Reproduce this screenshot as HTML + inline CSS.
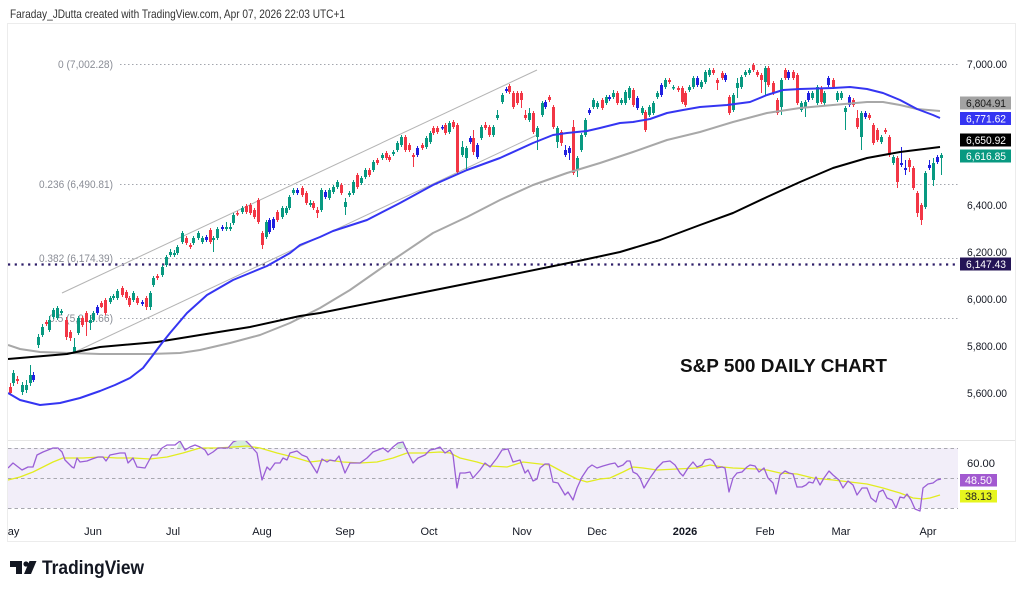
<!DOCTYPE html>
<html><head><meta charset="utf-8"><style>
html,body{margin:0;padding:0;background:#fff;}
svg{display:block;font-family:"Liberation Sans",sans-serif;}
</style></head><body>
<svg width="1024" height="593" viewBox="0 0 1024 593" xmlns="http://www.w3.org/2000/svg">
<defs>
<clipPath id="mp"><rect x="8" y="24" width="950" height="416"/></clipPath>
<clipPath id="rp"><rect x="8" y="441" width="950" height="100"/></clipPath>
<clipPath id="tp"><rect x="8" y="520" width="1007" height="21"/></clipPath>
</defs>
<rect width="1024" height="593" fill="#fff"/>
<text x="10" y="18" font-size="12" fill="#333" textLength="335" lengthAdjust="spacingAndGlyphs">Faraday_JDutta created with TradingView.com, Apr 07, 2026 22:03 UTC+1</text>
<rect x="7.5" y="23.5" width="1008" height="518" fill="none" stroke="#ececec"/>
<line x1="8" y1="440.5" x2="1015" y2="440.5" stroke="#e4e4e4"/>

<g clip-path="url(#mp)">
<!-- fib -->
<g stroke="#a3a6ae" stroke-width="1" stroke-dasharray="1.5 2.5">
<line x1="120" y1="64.5" x2="958" y2="64.5"/>
<line x1="120" y1="184.5" x2="958" y2="184.5"/>
<line x1="120" y1="258.5" x2="958" y2="258.5"/>
<line x1="120" y1="318.5" x2="958" y2="318.5"/>
</g>
<g font-size="11" fill="#8a8d96">
<text x="113" y="68" text-anchor="end" textLength="55" lengthAdjust="spacingAndGlyphs">0 (7,002.28)</text>
<text x="113" y="188" text-anchor="end" textLength="74" lengthAdjust="spacingAndGlyphs">0.236 (6,490.81)</text>
<text x="113" y="262" text-anchor="end" textLength="74" lengthAdjust="spacingAndGlyphs">0.382 (6,174.39)</text>
<text x="113" y="322" text-anchor="end" textLength="64" lengthAdjust="spacingAndGlyphs">0.5 (5,918.66)</text>
</g>
<line x1="8" y1="264.5" x2="958" y2="264.5" stroke="#2d1d68" stroke-width="2.2" stroke-dasharray="2.2 4.5"/>
<!-- channel -->
<line x1="62" y1="293" x2="537" y2="70" stroke="#b4b4b4" stroke-width="1"/>
<line x1="75" y1="352" x2="537" y2="135" stroke="#b4b4b4" stroke-width="1"/>

<!-- candles -->
<path fill="none" stroke="#089981" stroke-width="1" d="M13.5 370V386M22.5 382V395M26.5 380V393M30.5 365V386M38.5 334V348M42.5 324V337M49.5 316V332M53.5 308V319M57.5 306V320M61.5 309V315M74.5 338V354M78.5 316V335M90.5 315V330M93.5 311V322M110.5 296V304M113.5 294V300M117.5 289V300M133.5 291V302M150.5 291V310M153.5 276V287M162.5 265V277M166.5 255V267M170.5 249V257M174.5 250V257M177.5 245V255M182.5 231V244M193.5 236V245M198.5 231V240M202.5 236V244M213.5 236V252M217.5 227V240M226.5 222V231M230.5 223V231M233.5 213V225M242.5 206V214M266.5 220V239M282.5 206V219M286.5 206V215M289.5 195V210M293.5 188V195M310.5 200V207M321.5 188V212M329.5 188V200M333.5 185V194M337.5 180V189M345.5 198V215M349.5 191V197M353.5 180V195M361.5 176V185M365.5 168V179M373.5 160V172M382.5 153V160M393.5 150V156M397.5 141V152M401.5 135V147M426.5 136V149M430.5 131V144M449.5 121V134M462.5 141V157M466.5 146V170M481.5 125V140M493.5 125V137M497.5 110V120M502.5 93V104M529.5 108V122M537.5 126V150M542.5 101V117M557.5 126V148M577.5 156V177M581.5 133V152M585.5 118V137M593.5 98V109M597.5 101V109M606.5 95V105M613.5 90V99M621.5 98V105M625.5 90V105M629.5 86V100M642.5 106V115M649.5 105V117M653.5 101V115M657.5 91V99M665.5 78V89M673.5 85V90M689.5 85V92M693.5 76V89M701.5 80V89M705.5 70V84M709.5 68V77M733.5 93V112M737.5 78V98M741.5 75V89M745.5 70V77M749.5 68V75M765.5 66V95M781.5 78V115M801.5 101V112M805.5 100V117M812.5 91V100M817.5 85V105M824.5 91V105M837.5 91V102M841.5 91V100M845.5 106V130M861.5 111V150M881.5 135V144M893.5 155V165M925.5 171V209M933.5 158V186M941.5 153V175"/>
<path fill="none" stroke="#089981" stroke-width="3" d="M13.5 373V383M22.5 385V392M26.5 385V390M30.5 375V383M38.5 337V345M42.5 327V335M49.5 320V330M53.5 310V317M57.5 308V318M61.5 311V313M74.5 347V352M78.5 318V333M90.5 320V323M93.5 313V320M110.5 298V302M113.5 296V298M117.5 291V298M133.5 293V300M150.5 293V307M153.5 278V285M162.5 267V275M166.5 257V265M170.5 252V255M174.5 253V255M177.5 247V253M182.5 233V242M193.5 238V243M198.5 233V238M202.5 238V242M213.5 238V240M217.5 229V238M226.5 227V229M230.5 227V229M233.5 215V223M242.5 208V212M266.5 222V237M282.5 208V217M286.5 208V213M289.5 197V208M293.5 190V193M310.5 203V205M321.5 190V210M329.5 190V198M333.5 187V192M337.5 182V187M345.5 202V207M349.5 193V195M353.5 182V193M361.5 178V183M365.5 170V177M373.5 162V170M382.5 155V158M393.5 152V154M397.5 143V150M401.5 137V145M426.5 138V147M430.5 133V142M449.5 123V132M462.5 147V155M466.5 148V158M481.5 127V138M493.5 127V135M497.5 115V118M502.5 95V102M529.5 113V120M537.5 128V137M542.5 103V115M557.5 128V142M577.5 158V170M581.5 135V150M585.5 120V135M593.5 100V107M597.5 103V107M606.5 97V103M613.5 93V97M621.5 100V103M625.5 92V103M629.5 88V98M642.5 108V113M649.5 107V115M653.5 103V113M657.5 93V97M665.5 80V87M673.5 87V88.5M689.5 87V90M693.5 78V87M701.5 82V87M705.5 72V82M709.5 70V75M733.5 95V110M737.5 83V88M741.5 77V87M745.5 72V75M749.5 70V73M765.5 68V82M781.5 80V107M801.5 103V110M805.5 102V108M812.5 93V98M817.5 87V103M824.5 93V103M837.5 93V100M841.5 93V98M845.5 108V112M861.5 113V137M881.5 137V142M893.5 157V163M925.5 173V207M933.5 163V180M941.5 155V158"/>
<path fill="none" stroke="#f23645" stroke-width="1" d="M10.5 383V395M17.5 376V384M46.5 320V326M66.5 317V340M70.5 330V341M82.5 316V327M86.5 311V336M101.5 301V308M105.5 298V315M122.5 286V297M126.5 290V300M129.5 296V307M137.5 296V305M146.5 296V310M157.5 274V280M186.5 236V245M190.5 243V249M210.5 228V244M237.5 211V216M246.5 204V214M250.5 203V215M254.5 208V219M258.5 198V224M262.5 231V249M277.5 210V222M302.5 186V197M306.5 191V205M313.5 201V210M317.5 207V218M341.5 183V195M357.5 173V189M369.5 168V177M377.5 158V165M386.5 151V160M389.5 155V162M405.5 135V152M409.5 143V152M413.5 153V167M422.5 143V150M433.5 126V135M437.5 126V134M445.5 123V135M453.5 120V129M457.5 123V174M473.5 130V155M485.5 122V130M489.5 125V137M509.5 84V94M513.5 91V109M517.5 91V105M521.5 91V108M525.5 110V120M533.5 111V134M549.5 95V102M553.5 105V129M561.5 130V146M573.5 120V175M602.5 98V110M617.5 91V105M633.5 88V107M645.5 110V132M669.5 78V84M678.5 86V92M682.5 86V104M685.5 91V107M713.5 68V75M717.5 78V90M722.5 71V80M729.5 95V115M753.5 63V72M757.5 70V77M761.5 73V93M768.5 66V87M773.5 81V95M777.5 98V115M785.5 68V80M793.5 70V80M797.5 73V105M821.5 86V104M833.5 78V89M853.5 98V107M857.5 110V129M869.5 113V120M873.5 123V145M877.5 128V142M885.5 128V134M889.5 135V157M897.5 156V188M909.5 158V172M913.5 166V190M917.5 191V217M921.5 203V225"/>
<path fill="none" stroke="#f23645" stroke-width="3" d="M10.5 387V393M17.5 379V381M46.5 322V324M66.5 320V337M70.5 332V338M82.5 318V325M86.5 313V322M101.5 303V307M105.5 300V313M122.5 288V295M126.5 292V298M129.5 298V305M137.5 298V303M146.5 298V307M157.5 276V278M186.5 238V243M190.5 245V247M210.5 230V242M237.5 213V214.5M246.5 206V212M250.5 205V213M254.5 210V217M258.5 200V222M262.5 233V245M277.5 212V220M302.5 188V195M306.5 193V203M313.5 203V208M317.5 210V213M341.5 185V193M357.5 175V187M369.5 170V175M377.5 160V163M386.5 153V158M389.5 157V160M405.5 137V150M409.5 145V150M413.5 155V157M422.5 145V148M433.5 128V133M437.5 128V132M445.5 125V133M453.5 122V127M457.5 125V172M473.5 138V152M485.5 125V128M489.5 127V135M509.5 86V92M513.5 93V107M517.5 93V103M521.5 93V100M525.5 115V118M533.5 113V132M549.5 97V100M553.5 107V127M561.5 132V143M573.5 127V173M602.5 100V108M617.5 93V103M633.5 90V105M645.5 112V130M669.5 80V82M678.5 88V90M682.5 88V102M685.5 93V105M713.5 70V73M717.5 80V83M722.5 73V78M729.5 97V113M753.5 65V70M757.5 72V75M761.5 75V80M768.5 68V85M773.5 83V93M777.5 100V113M785.5 70V78M793.5 72V78M797.5 75V103M821.5 88V102M833.5 80V87M853.5 100V105M857.5 118V127M869.5 115V118M873.5 125V143M877.5 130V140M885.5 130V132M889.5 137V155M897.5 158V182M909.5 160V167M913.5 168V188M917.5 193V213M921.5 205V220"/>
<path fill="none" stroke="#2020e0" stroke-width="1" d="M33.5 372V382M97.5 305V315M142.5 300V306M206.5 235V242M222.5 225V231M269.5 218V234M273.5 217V230M297.5 188V195M325.5 190V199M417.5 146V157M442.5 125V130M470.5 136V144M477.5 143V159M506.5 87V93M545.5 100V109M565.5 145V157M569.5 146V160M589.5 108V115M609.5 95V101M637.5 96V110M661.5 83V97M697.5 76V87M725.5 73V82M788.5 70V80M808.5 91V102M828.5 76V87M849.5 95V107M865.5 111V119M901.5 147V167M905.5 160V175M929.5 160V170M937.5 155V164"/>
<path fill="none" stroke="#2020e0" stroke-width="3" d="M33.5 375V380M97.5 307V313M142.5 302V304M206.5 237V240M222.5 227V229M269.5 220V232M273.5 219V228M297.5 190V193M325.5 192V197M417.5 148V155M442.5 127V128.5M470.5 138V142M477.5 145V157M506.5 89V91M545.5 102V107M565.5 150V155M569.5 148V153M589.5 110V113M609.5 97V99M637.5 98V108M661.5 85V95M697.5 78V85M725.5 75V80M788.5 72V78M808.5 93V100M828.5 78V85M849.5 97V105M865.5 113V117M901.5 163V165M905.5 168V170M929.5 165V168M937.5 157V162"/>

<!-- MAs -->
<polyline fill="none" stroke="#a8a8a8" stroke-width="2" stroke-linejoin="round" points="8,345 20,349 40,352 70,353 100,354 150,354 180,353 200,350 230,343 260,335 290,323 320,308 350,290 390,262 433,233 467,217 500,200 533,185 567,173 600,163 633,152 667,140 700,132 733,122 767,113 800,108 833,105 867,102 883,102 900,105 917,109 940,111"/>
<polyline fill="none" stroke="#000" stroke-width="2" stroke-linejoin="round" points="8,359 67,354 100,347 157,342 200,335 250,327 300,316 320,313 400,297 500,277 583,260 620,252 660,240 700,225 733,213 767,197 800,182 833,168 867,158 900,152 940,147"/>
<polyline fill="none" stroke="#3535f2" stroke-width="2" stroke-linejoin="round" points="8,393 20,400 40,405 60,403 80,398 100,391 115,385 130,378 143,368 153,355 162,343 170,333 187,313 207,295 233,280 250,273 267,266 290,253 300,245 320,237 333,231 367,220 400,203 433,185 467,170 500,158 533,143 553,135 567,133 587,131 600,128 620,123 633,122 650,119 667,113 683,110 700,107 727,105 750,102 767,95 783,90 800,89 833,88 850,87 867,89 883,93 900,100 917,109 933,115 940,118"/>
</g>

<text x="680" y="372" font-size="18" font-weight="bold" fill="#111" textLength="207" lengthAdjust="spacingAndGlyphs">S&amp;P 500 DAILY CHART</text>

<!-- price axis -->
<g font-size="11" fill="#131722">
<text x="967" y="68" textLength="40" lengthAdjust="spacingAndGlyphs">7,000.00</text>
<text x="967" y="209" textLength="40" lengthAdjust="spacingAndGlyphs">6,400.00</text>
<text x="967" y="256" textLength="40" lengthAdjust="spacingAndGlyphs">6,200.00</text>
<text x="967" y="303" textLength="40" lengthAdjust="spacingAndGlyphs">6,000.00</text>
<text x="967" y="350" textLength="40" lengthAdjust="spacingAndGlyphs">5,800.00</text>
<text x="967" y="397" textLength="40" lengthAdjust="spacingAndGlyphs">5,600.00</text>
<text x="967" y="467" textLength="28" lengthAdjust="spacingAndGlyphs">60.00</text>
</g>
<rect x="960" y="96.5" width="51" height="13" fill="#a3a3a3"/>
<text x="966" y="107" font-size="11" fill="#1a1a1a" textLength="40" lengthAdjust="spacingAndGlyphs">6,804.91</text>
<rect x="960" y="112" width="51" height="13" fill="#3535f2"/>
<text x="966" y="122.5" font-size="11" fill="#fff" textLength="40" lengthAdjust="spacingAndGlyphs">6,771.62</text>
<rect x="960" y="133.5" width="51" height="13" fill="#000"/>
<text x="966" y="144" font-size="11" fill="#fff" textLength="40" lengthAdjust="spacingAndGlyphs">6,650.92</text>
<rect x="960" y="149.5" width="51" height="13" fill="#089981"/>
<text x="966" y="160" font-size="11" fill="#fff" textLength="40" lengthAdjust="spacingAndGlyphs">6,616.85</text>
<rect x="960" y="257.5" width="51" height="13" fill="#241456"/>
<text x="966" y="268" font-size="11" fill="#fff" textLength="40" lengthAdjust="spacingAndGlyphs">6,147.43</text>

<!-- RSI -->
<g clip-path="url(#rp)">
<rect x="8" y="448" width="950" height="60" fill="#f2eef9"/>
<g stroke="#a8a8b0" stroke-width="1" stroke-dasharray="3.5 3">
<line x1="8" y1="448.5" x2="958" y2="448.5"/>
<line x1="8" y1="478.5" x2="958" y2="478.5"/>
<line x1="8" y1="508.5" x2="958" y2="508.5"/>
</g>
<path fill="#d5eedc" d="M230 448 233 442 238 440 245 440 250 445 252 448ZM177 448 180 441 183 448ZM395 448 398 443 403 442 406 448Z"/>
<polyline fill="none" stroke="#e2ec20" stroke-width="1.3" stroke-linejoin="round" points="8,480 20,477 33,472 43,467 53,462 63,458 83,458 100,457 117,458 133,458 150,459 167,457 183,453 200,448 217,448 233,447 247,446 260,448 277,453 293,457 310,462 327,460 343,462 360,463 377,462 393,458 407,453 423,453 440,452 450,453 460,458 477,462 490,466 507,467 523,462 540,464 550,465 563,472 577,479 587,482 600,479 610,478 623,472 633,467 643,468 657,470 677,469 697,468 710,465 723,467 733,468 757,469 767,470 780,473 797,474 813,478 833,480 850,482 867,484 883,488 900,493 913,498 923,499 930,498 940,495"/>
<polyline fill="none" stroke="#9a5fd6" stroke-width="1.3" stroke-linejoin="round" points="8,468 13,463 22,470 28,467 33,467 37,455 43,452 53,448 58,448 62,452 65,460 72,467 74,468 77,458 80,462 87,461 92,459 98,457 103,457 106,461 110,455 115,454 120,453 125,453 128,463 133,458 137,467 145,468 152,455 157,455 162,448 167,445 175,445 180,441 185,450 190,447 195,445 200,447 205,450 208,455 213,452 218,448 228,448 233,442 238,440 245,440 250,445 257,453 262,480 267,467 270,470 275,463 280,463 283,458 287,460 290,453 297,451 302,455 307,457 312,465 317,473 322,459 327,462 330,460 335,461 339,456 345,473 350,463 360,463 367,458 373,452 378,450 383,448 388,452 393,447 398,443 403,442 408,453 413,463 418,458 425,455 430,450 435,449 440,447 445,453 450,450 453,455 457,488 460,473 465,473 470,472 473,478 480,470 485,463 490,467 497,458 502,450 508,449 513,462 520,460 525,473 528,470 533,481 537,479 540,468 545,464 549,464 553,482 558,483 565,495 568,492 573,500 577,488 582,477 588,468 592,465 597,468 603,466 610,464 615,463 618,467 623,465 627,461 630,461 633,472 637,474 640,478 644,488 650,478 657,468 663,462 670,461 675,465 680,473 683,476 688,468 693,462 697,467 702,465 705,460 710,459 713,461 717,468 722,467 725,468 729,492 733,478 737,473 742,472 747,467 750,465 755,466 759,472 764,468 768,478 773,483 776,494 780,475 785,471 789,473 793,474 797,487 802,487 806,485 809,482 813,483 816,477 820,485 824,478 829,471 833,475 839,480 843,488 848,481 853,485 857,495 862,488 867,488 871,498 876,502 879,492 883,490 887,498 892,500 896,508 900,497 904,498 907,494 911,500 915,509 920,511 923,488 928,484 933,483 937,480 941,479"/>
</g>
<rect x="960" y="474" width="37" height="12.5" fill="#a259d0"/>
<text x="965" y="484" font-size="11" fill="#fff" textLength="27" lengthAdjust="spacingAndGlyphs">48.50</text>
<rect x="960" y="490" width="37" height="12.5" fill="#e6f51e"/>
<text x="965" y="500" font-size="11" fill="#222" textLength="27" lengthAdjust="spacingAndGlyphs">38.13</text>

<!-- time axis -->
<g font-size="11" fill="#131722" text-anchor="middle">
<g clip-path="url(#tp)"><text x="9" y="535">May</text></g>
<text x="93" y="535">Jun</text>
<text x="173" y="535">Jul</text>
<text x="262" y="535">Aug</text>
<text x="345" y="535">Sep</text>
<text x="429" y="535">Oct</text>
<text x="522" y="535">Nov</text>
<text x="597" y="535">Dec</text>
<text x="685" y="535" font-weight="bold">2026</text>
<text x="765" y="535">Feb</text>
<text x="841" y="535">Mar</text>
<text x="928" y="535">Apr</text>
</g>

<!-- logo -->
<g fill="#131722">
<path d="M10 561H22V574H16V567H10Z"/>
<circle cx="26" cy="564" r="2.6"/>
<path d="M29.5 561H36.5L31 574H24Z"/>
</g>
<text x="42" y="574" font-size="19" font-weight="bold" fill="#131722" textLength="102" lengthAdjust="spacingAndGlyphs">TradingView</text>
</svg>
</body></html>
